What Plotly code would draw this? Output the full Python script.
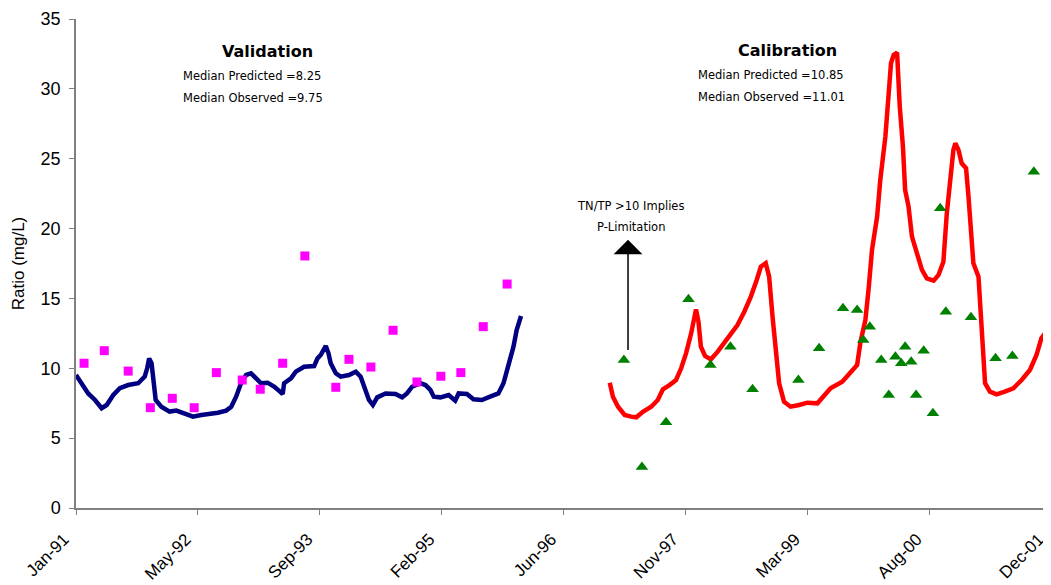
import pandas as pd
import plotly.graph_objects as go

BASE = pd.Timestamp("1991-01-01")

# ---- data (days after 1991-01-01, ratio values) ----
val_pred_day = [0, 23, 50, 78, 105, 126, 153, 180, 214, 255, 282, 292, 300, 310, 319, 327, 350, 384,
                412, 446, 480, 514, 548, 582, 616, 637, 657, 677, 698, 718, 739, 759, 786, 814, 837,
                848, 854, 882, 902, 936, 977, 991, 1004, 1025, 1036, 1045, 1066, 1086, 1120, 1148,
                1168, 1188, 1202, 1218, 1236, 1270, 1311, 1338, 1358, 1379, 1413, 1434, 1454, 1468,
                1495, 1529, 1556, 1570, 1604, 1631, 1665, 1699, 1733, 1754, 1774, 1795, 1808, 1826]
val_pred = [9.52, 8.93, 8.2, 7.73, 7.14, 7.37, 8.09, 8.57, 8.8, 8.93, 9.4, 10.0, 10.7, 10.36, 9.16, 7.73,
            7.25, 6.9, 6.97, 6.78, 6.54, 6.66, 6.73, 6.82, 6.97, 7.25, 7.97, 8.93, 9.52, 9.64, 9.28,
            8.93, 8.97, 8.68, 8.33, 8.16, 8.93, 9.28, 9.76, 10.11, 10.16, 10.71, 10.95, 11.6, 11.07,
            10.36, 9.64, 9.4, 9.52, 9.76, 9.4, 8.45, 7.73, 7.37, 7.92, 8.2, 8.16, 7.92, 8.2, 8.68,
            8.93, 8.8, 8.45, 7.97, 7.92, 8.09, 7.68, 8.2, 8.16, 7.78, 7.73, 7.97, 8.2, 8.93, 10.11,
            11.55, 12.74, 13.74]

val_obs_day = [33, 116, 214, 305, 395, 485, 576, 682, 756, 848, 939, 1066, 1120, 1210, 1301, 1399,
               1497, 1579, 1671, 1769]
val_obs = [10.36, 11.26, 9.8, 7.18, 7.85, 7.18, 9.69, 9.16, 8.5, 10.36, 18.04, 8.64, 10.64, 10.09,
           12.72, 9.02, 9.43, 9.69, 12.98, 16.03]

cal_pred_day = [2190, 2203, 2224, 2251, 2278, 2299, 2326, 2360, 2387, 2408, 2435, 2462, 2483, 2503,
                2524, 2537, 2544, 2554, 2564, 2581, 2605, 2633, 2657, 2687, 2714, 2742, 2769, 2793,
                2810, 2830, 2844, 2858, 2871, 2885, 2905, 2932, 2967, 3001, 3042, 3082, 3096, 3144,
                3178, 3205, 3219, 3239, 3253, 3266, 3287, 3300, 3321, 3331, 3344, 3355, 3369, 3380,
                3393, 3402, 3416, 3430, 3450, 3471, 3491, 3519, 3539, 3559, 3573, 3586, 3600, 3608,
                3621, 3634, 3652, 3662, 3671, 3682, 3703, 3712, 3723, 3730, 3750, 3777, 3811, 3846,
                3880, 3914, 3941, 3961, 3986]
cal_pred = [8.97, 7.97, 7.25, 6.66, 6.54, 6.49, 6.89, 7.25, 7.73, 8.5, 8.8, 9.16, 10.0, 11.07, 12.5,
            13.94, 14.22, 13.34, 11.55, 10.88, 10.64, 11.19, 11.72, 12.38, 13.1, 14.05, 15.13, 16.32,
            17.27, 17.52, 16.56, 13.69, 11.31, 8.93, 7.61, 7.25, 7.37, 7.54, 7.49, 8.21, 8.57, 9.04,
            9.76, 10.24, 11.9, 13.46, 15.84, 18.47, 20.85, 23.48, 26.58, 28.97, 31.83, 32.43, 32.59,
            28.73, 25.86, 22.76, 21.57, 19.42, 18.23, 17.04, 16.44, 16.27, 16.68, 17.63, 21.09,
            23.48, 25.63, 26.1, 25.63, 24.67, 24.32, 22.28, 19.9, 17.52, 16.56, 13.94, 10.36, 8.93,
            8.33, 8.14, 8.33, 8.57, 9.16, 9.88, 10.95, 12.15, 12.74]

cal_obs_day = [2248, 2322, 2421, 2513, 2603, 2685, 2776, 2964, 3049, 3147, 3205, 3230, 3257, 3304,
               3335, 3362, 3386, 3402, 3427, 3447, 3478, 3516, 3546, 3569, 3672, 3773, 3842, 3930]
cal_obs = [10.59, 2.93, 6.13, 14.94, 10.24, 11.55, 8.5, 9.16, 11.43, 14.3, 14.17, 12.03, 12.98, 10.59,
           8.09, 10.83, 10.36, 11.55, 10.47, 8.09, 11.26, 6.78, 21.45, 14.05, 13.65, 10.72, 10.88,
           24.07]

tick_days = [0, 500, 1000, 1500, 2000, 2500, 3000, 3500, 4000]
tick_labels = ["Jan-91", "May-92", "Sep-93", "Feb-95", "Jun-96", "Nov-97", "Mar-99", "Aug-00", "Dec-01"]


def to_dates(days):
    return BASE + pd.to_timedelta(pd.Series(days, dtype=float), unit="D")


FONT = "Arial, 'Liberation Sans', sans-serif"
NOTE_FONT = "'DejaVu Sans', sans-serif"

fig = go.Figure()
fig.add_trace(go.Scatter(x=to_dates(val_pred_day), y=val_pred, mode="lines",
                         line=dict(color="#000080", width=4.5), name="Validation predicted"))
fig.add_trace(go.Scatter(x=to_dates(cal_pred_day), y=cal_pred, mode="lines",
                         line=dict(color="#FF0000", width=4.5), name="Calibration predicted"))
fig.add_trace(go.Scatter(x=to_dates(val_obs_day), y=val_obs, mode="markers",
                         marker=dict(symbol="square", color="#FF00FF", size=9),
                         name="Validation observed"))
fig.add_trace(go.Scatter(x=to_dates(cal_obs_day), y=cal_obs, mode="markers",
                         marker=dict(symbol="triangle-up", color="#008000", size=11),
                         name="Calibration observed"))


def d(day):
    return BASE + pd.Timedelta(days=day)


anns = [
    dict(x=d(785), y=32.65, text="<b>Validation</b>", size=16, xanchor="center"),
    dict(x=d(429), y=30.92, text="Median Predicted =8.25", size=11.5, xanchor="left"),
    dict(x=d(429), y=29.35, text="Median Observed =9.75", size=11.5, xanchor="left"),
    dict(x=d(2919), y=32.78, text="<b>Calibration</b>", size=16, xanchor="center"),
    dict(x=d(2543), y=31.0, text="Median Predicted =10.85", size=11.5, xanchor="left"),
    dict(x=d(2543), y=29.42, text="Median Observed =11.01", size=11.5, xanchor="left"),
    dict(x=d(2277), y=21.62, text="TN/TP >10 Implies", size=11.5, xanchor="center"),
    dict(x=d(2277), y=20.11, text="P-Limitation", size=11.5, xanchor="center"),
]
for a in anns:
    fig.add_annotation(x=a["x"], y=a["y"], text=a["text"], showarrow=False,
                       xanchor=a["xanchor"], yanchor="middle",
                       font=dict(family=NOTE_FONT, size=a["size"], color="black"))

# arrow
fig.add_annotation(x=d(2265), y=19.2, ax=d(2265), ay=11.2, xref="x", yref="y",
                   axref="x", ayref="y", text="", showarrow=True,
                   arrowhead=1, arrowsize=3.2, arrowwidth=1.5, arrowcolor="black")

# page body has an 8px margin, so the figure is 8px smaller and offset accordingly
fig.update_layout(
    width=1043, height=577,
    margin=dict(l=68, r=0, t=11, b=77),
    paper_bgcolor="white", plot_bgcolor="white",
    showlegend=False,
    font=dict(family=FONT, color="black"),
)
fig.update_xaxes(
    type="date",
    range=[d(0), d(4000.5)],
    tickmode="array",
    tickvals=list(to_dates(tick_days)),
    ticktext=tick_labels,
    tickangle=-45,
    tickfont=dict(family=FONT, size=17, color="black"),
    ticks="outside", ticklen=5, tickcolor="#808080",
    showline=True, linecolor="#808080", linewidth=1.5,
    showgrid=False, zeroline=False,
    automargin=False, ticklabeloverflow="allow",
    ticklabelstandoff=8, ticklabelshift=-12,
)
fig.update_yaxes(
    range=[0, 35], dtick=5, tick0=0,
    tickfont=dict(family=FONT, size=18, color="black"),
    ticks="outside", ticklen=5, tickcolor="#808080",
    showline=True, linecolor="#808080", linewidth=1.5,
    showgrid=False, zeroline=False,
    automargin=False, ticklabeloverflow="allow",
    ticklabelstandoff=5,
    title=dict(text="Ratio (mg/L)", font=dict(family=FONT, size=17, color="black"), standoff=12),
)

fig.write_html("out.html")
